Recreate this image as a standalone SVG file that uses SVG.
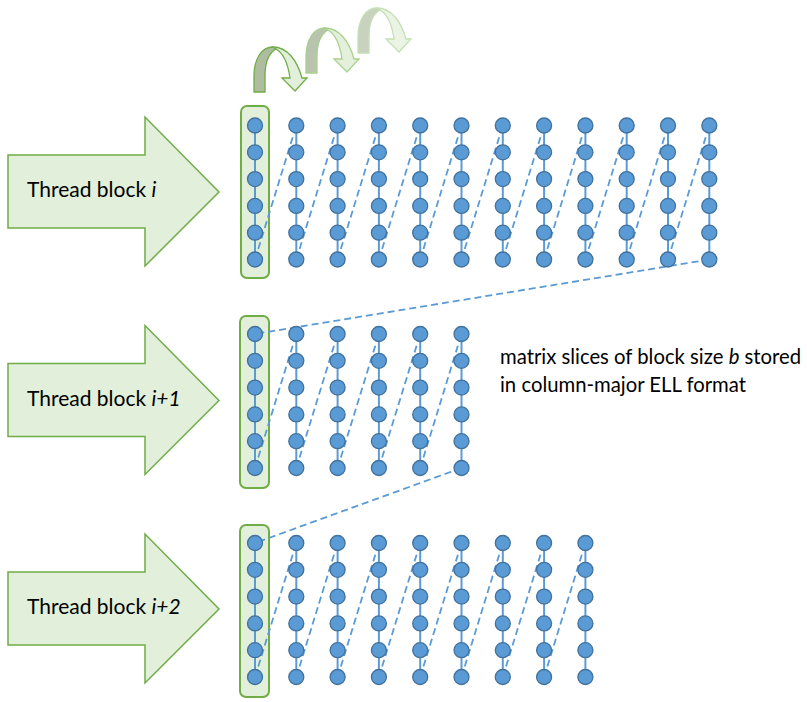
<svg xmlns="http://www.w3.org/2000/svg" xmlns:xlink="http://www.w3.org/1999/xlink" width="807" height="702" viewBox="0 0 807 702">
<style>
.big{fill:#E2EFDA;stroke:#70AD47;stroke-width:1.5;stroke-linejoin:miter}
.box{fill:#E2EFDA;stroke:#70AD47;stroke-width:2}
.v{stroke:#5B9BD5;stroke-width:2}
.dot{fill:#5B9BD5;stroke:#41719C;stroke-width:1.3}
.dash{fill:none;stroke:#5B9BD5;stroke-width:1.8;stroke-dasharray:7 4}
.lbl{font-family:Lato,"Liberation Sans",sans-serif;font-size:21px;fill:#000}
.cap{font-family:Lato,"Liberation Sans",sans-serif;font-size:20.3px;fill:#000}
</style>
<defs>
<g id="col">
<line class="v" x1="0" y1="0" x2="0" y2="134"/>
<circle class="dot" cx="0" cy="0" r="7.5"/>
<circle class="dot" cx="0" cy="26.8" r="7.5"/>
<circle class="dot" cx="0" cy="53.6" r="7.5"/>
<circle class="dot" cx="0" cy="80.4" r="7.5"/>
<circle class="dot" cx="0" cy="107.2" r="7.5"/>
<circle class="dot" cx="0" cy="134" r="7.5"/>
</g>
<path id="uback" d="M254,92 L254,76 C254,58 262,47 273,47 L276,49 C269,53 265,63 265,76 L265,92 Z"/>
<path id="ufront" d="M273,47 C287,47 297,60 302,78 L307,78 L295,91 L282,78 L290,78 C288,64 283,53 276,49 Z"/>
</defs>

<g id="uturn-arrows">
<g id="uturn3" transform="translate(104,-39)" stroke="#C5E0B4" stroke-width="1.3">
<use xlink:href="#uback" fill="#C8D2BF"/>
<use xlink:href="#ufront" fill="#EAF3E4"/>
</g>
<g id="uturn2" transform="translate(52,-19)" stroke="#A9D18E" stroke-width="1.3">
<use xlink:href="#uback" fill="#B8C4AE"/>
<use xlink:href="#ufront" fill="#E4F0DC"/>
</g>
<g id="uturn1" stroke="#70AD47" stroke-width="1.3">
<use xlink:href="#uback" fill="#AEBDA0"/>
<use xlink:href="#ufront" fill="#E2EFDA"/>
</g>
</g>

<g id="thread-block-i">
<polygon class="big" points="8,155 145,155 145,117 219,192 145,266 145,228 8,228"/>
<text class="lbl" x="27" y="197">Thread block <tspan font-style="italic">i</tspan></text>
</g>
<g id="thread-block-i1" transform="translate(0,208.5)">
<polygon class="big" points="8,155 145,155 145,117 219,192 145,266 145,228 8,228"/>
<text class="lbl" x="27" y="197">Thread block <tspan font-style="italic">i+1</tspan></text>
</g>
<g id="thread-block-i2" transform="translate(0,417)">
<polygon class="big" points="8,155 145,155 145,117 219,192 145,266 145,228 8,228"/>
<text class="lbl" x="27" y="197">Thread block <tspan font-style="italic">i+2</tspan></text>
</g>

<g id="slice-boxes">
<rect id="slice-box-1" class="box" x="241" y="106" width="28" height="172" rx="6"/>
<rect id="slice-box-2" class="box" x="240" y="316" width="29" height="172" rx="6"/>
<rect id="slice-box-3" class="box" x="240" y="525" width="29" height="172" rx="6"/>
</g>

<g id="connectors">
<path class="dash" d="M255,259.5L296.3,125.5M296.3,259.5L337.6,125.5M337.6,259.5L378.9,125.5M378.9,259.5L420.2,125.5M420.2,259.5L461.5,125.5M461.5,259.5L502.8,125.5M502.8,259.5L544.1,125.5M544.1,259.5L585.4,125.5M585.4,259.5L626.7,125.5M626.7,259.5L668,125.5M668,259.5L709.3,125.5"/>
<path class="dash" d="M709.3,259.5L255,334"/>
<path class="dash" d="M255,468L296.3,334M296.3,468L337.6,334M337.6,468L378.9,334M378.9,468L420.2,334M420.2,468L461.5,334"/>
<path class="dash" d="M461.5,468L255,543"/>
<path class="dash" d="M255,677L296.3,543M296.3,677L337.6,543M337.6,677L378.9,543M378.9,677L420.2,543M420.2,677L461.5,543M461.5,677L502.8,543M502.8,677L544.1,543M544.1,677L585.4,543"/>
</g>

<g id="matrix-slice-1" transform="translate(0,125.5)">
<use xlink:href="#col" x="255"/><use xlink:href="#col" x="296.3"/><use xlink:href="#col" x="337.6"/><use xlink:href="#col" x="378.9"/><use xlink:href="#col" x="420.2"/><use xlink:href="#col" x="461.5"/><use xlink:href="#col" x="502.8"/><use xlink:href="#col" x="544.1"/><use xlink:href="#col" x="585.4"/><use xlink:href="#col" x="626.7"/><use xlink:href="#col" x="668"/><use xlink:href="#col" x="709.3"/>
</g>
<g id="matrix-slice-2" transform="translate(0,334)">
<use xlink:href="#col" x="255"/><use xlink:href="#col" x="296.3"/><use xlink:href="#col" x="337.6"/><use xlink:href="#col" x="378.9"/><use xlink:href="#col" x="420.2"/><use xlink:href="#col" x="461.5"/>
</g>
<g id="matrix-slice-3" transform="translate(0,543)">
<use xlink:href="#col" x="255"/><use xlink:href="#col" x="296.3"/><use xlink:href="#col" x="337.6"/><use xlink:href="#col" x="378.9"/><use xlink:href="#col" x="420.2"/><use xlink:href="#col" x="461.5"/><use xlink:href="#col" x="502.8"/><use xlink:href="#col" x="544.1"/><use xlink:href="#col" x="585.4"/>
</g>

<g id="caption">
<text class="cap" x="500" y="364">matrix slices of block size <tspan font-style="italic">b</tspan> stored</text>
<text class="cap" x="500" y="392">in column-major ELL format</text>
</g>
</svg>
